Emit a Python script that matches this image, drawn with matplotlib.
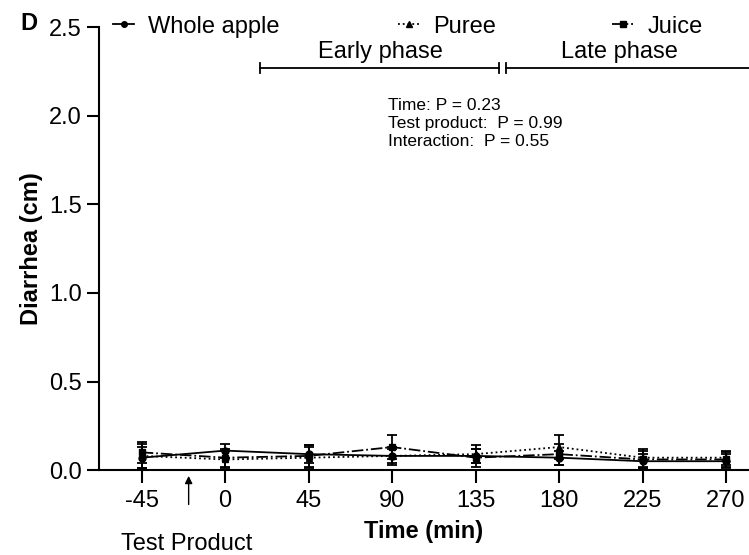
"""Diarrhea score over time for whole apple, puree and juice (panel D)."""

import matplotlib
matplotlib.use("Agg")
import matplotlib.pyplot as plt
from matplotlib.lines import Line2D

plt.rcParams["font.family"] = ["Liberation Sans", "DejaVu Sans"]
plt.rcParams["axes.unicode_minus"] = False

time_min = [-45, 0, 45, 90, 135, 180, 225, 270]
x_ticks = [-45, 0, 45, 90, 135, 180, 225, 270]
y_ticks = [0.0, 0.5, 1.0, 1.5, 2.0, 2.5]

whole_mean = [0.07, 0.11, 0.09, 0.08, 0.08, 0.07, 0.05, 0.05]
whole_err = [0.06, 0.04, 0.05, 0.04, 0.04, 0.04, 0.04, 0.04]
puree_mean = [0.08, 0.06, 0.07, 0.08, 0.09, 0.13, 0.07, 0.07]
puree_err = [0.07, 0.05, 0.06, 0.05, 0.05, 0.07, 0.05, 0.04]
juice_mean = [0.10, 0.07, 0.08, 0.13, 0.07, 0.09, 0.06, 0.06]
juice_err = [0.06, 0.05, 0.06, 0.07, 0.05, 0.06, 0.05, 0.04]

phase_names = ["Early phase", "Late phase"]
phase_start = [19, 151.5]
phase_end = [147.7, 300]
phase_label_x = [83.6, 212.8]
stats_lines = ["Time: P = 0.23", "Test product:  P = 0.99", "Interaction:  P = 0.55"]

fig = plt.figure(figsize=(7.49, 5.55), dpi=100)
ax = fig.add_axes([0.132, 0.153, 0.868, 0.798])

series = [
    ("Whole apple", whole_mean, whole_err, "-", "o"),
    ("Puree", puree_mean, puree_err, ":", "^"),
    ("Juice", juice_mean, juice_err, "-.", "s"),
]
for label, m, e, ls, mk in series:
    ax.errorbar(time_min, m, yerr=e, color="black", linestyle=ls, linewidth=1.3,
                marker=mk, markersize=5, capsize=3.5, elinewidth=1.3, capthick=1.3,
                label=label, clip_on=False)

ax.set_xlim(-68.1, 282.4)
ax.set_ylim(0, 2.5)
ax.set_xticks(x_ticks)
ax.set_yticks(y_ticks)
ax.set_yticklabels([f"{v:.1f}" for v in y_ticks])
for s in ("top", "right"):
    ax.spines[s].set_visible(False)
for s in ("left", "bottom"):
    ax.spines[s].set_linewidth(1.5)
ax.tick_params(direction="out", length=9, width=1.5, labelsize=17, pad=3.5)
ax.tick_params(axis="x", pad=5)

ax.set_ylabel("Diarrhea (cm)", fontsize=17, fontweight="bold", labelpad=4)
ax.set_xlabel("Time (min)", fontsize=17, fontweight="bold", labelpad=6)

# phase brackets
for name, x0, x1, xt in zip(phase_names, phase_start, phase_end, phase_label_x):
    ax.plot([x0, x1], [2.268, 2.268], color="black", lw=1.3, clip_on=True)
    ax.plot([x0, x0], [2.24, 2.296], color="black", lw=1.3, clip_on=False)
    if x1 < 282:
        ax.plot([x1, x1], [2.24, 2.296], color="black", lw=1.3, clip_on=False)
    ax.text(xt, 2.325, name, ha="center", va="baseline", fontsize=17)

ax.text(88, 2.1, "\n".join(stats_lines), ha="left", va="top", fontsize=12.5,
        linespacing=1.25)

# test product arrow below the axis
ax.annotate("", xy=(-19.7, -0.017), xytext=(-19.7, -0.21),
            xycoords="data", annotation_clip=False,
            arrowprops=dict(arrowstyle="-|>", color="black", lw=1, mutation_scale=11))
fig.text(0.249, 1 - 550 / 555, "Test Product", ha="center", va="baseline", fontsize=17)

fig.text(0.027, 1 - 30 / 555, "D", fontsize=17, fontweight="bold", ha="left", va="baseline")

handles = [
    Line2D([], [], color="black", ls="-", marker="o", markersize=4, lw=1.3),
    Line2D([], [], color="black", ls=":", marker="^", markersize=4, lw=1.3),
    Line2D([], [], color="black", ls="-.", marker="s", markersize=4, lw=1.3),
]
labels = ["Whole apple", "Puree", "Juice"]
positions = [113 / 749, 398 / 749, 612 / 749]
for h, lab, xp in zip(handles, labels, positions):
    fig.legend([h], [lab], loc="center left", bbox_to_anchor=(xp, 0.952),
               frameon=False, fontsize=17, handlelength=0.9, handletextpad=0.6,
               borderaxespad=0, borderpad=0)

fig.savefig("out.png", dpi=100)
